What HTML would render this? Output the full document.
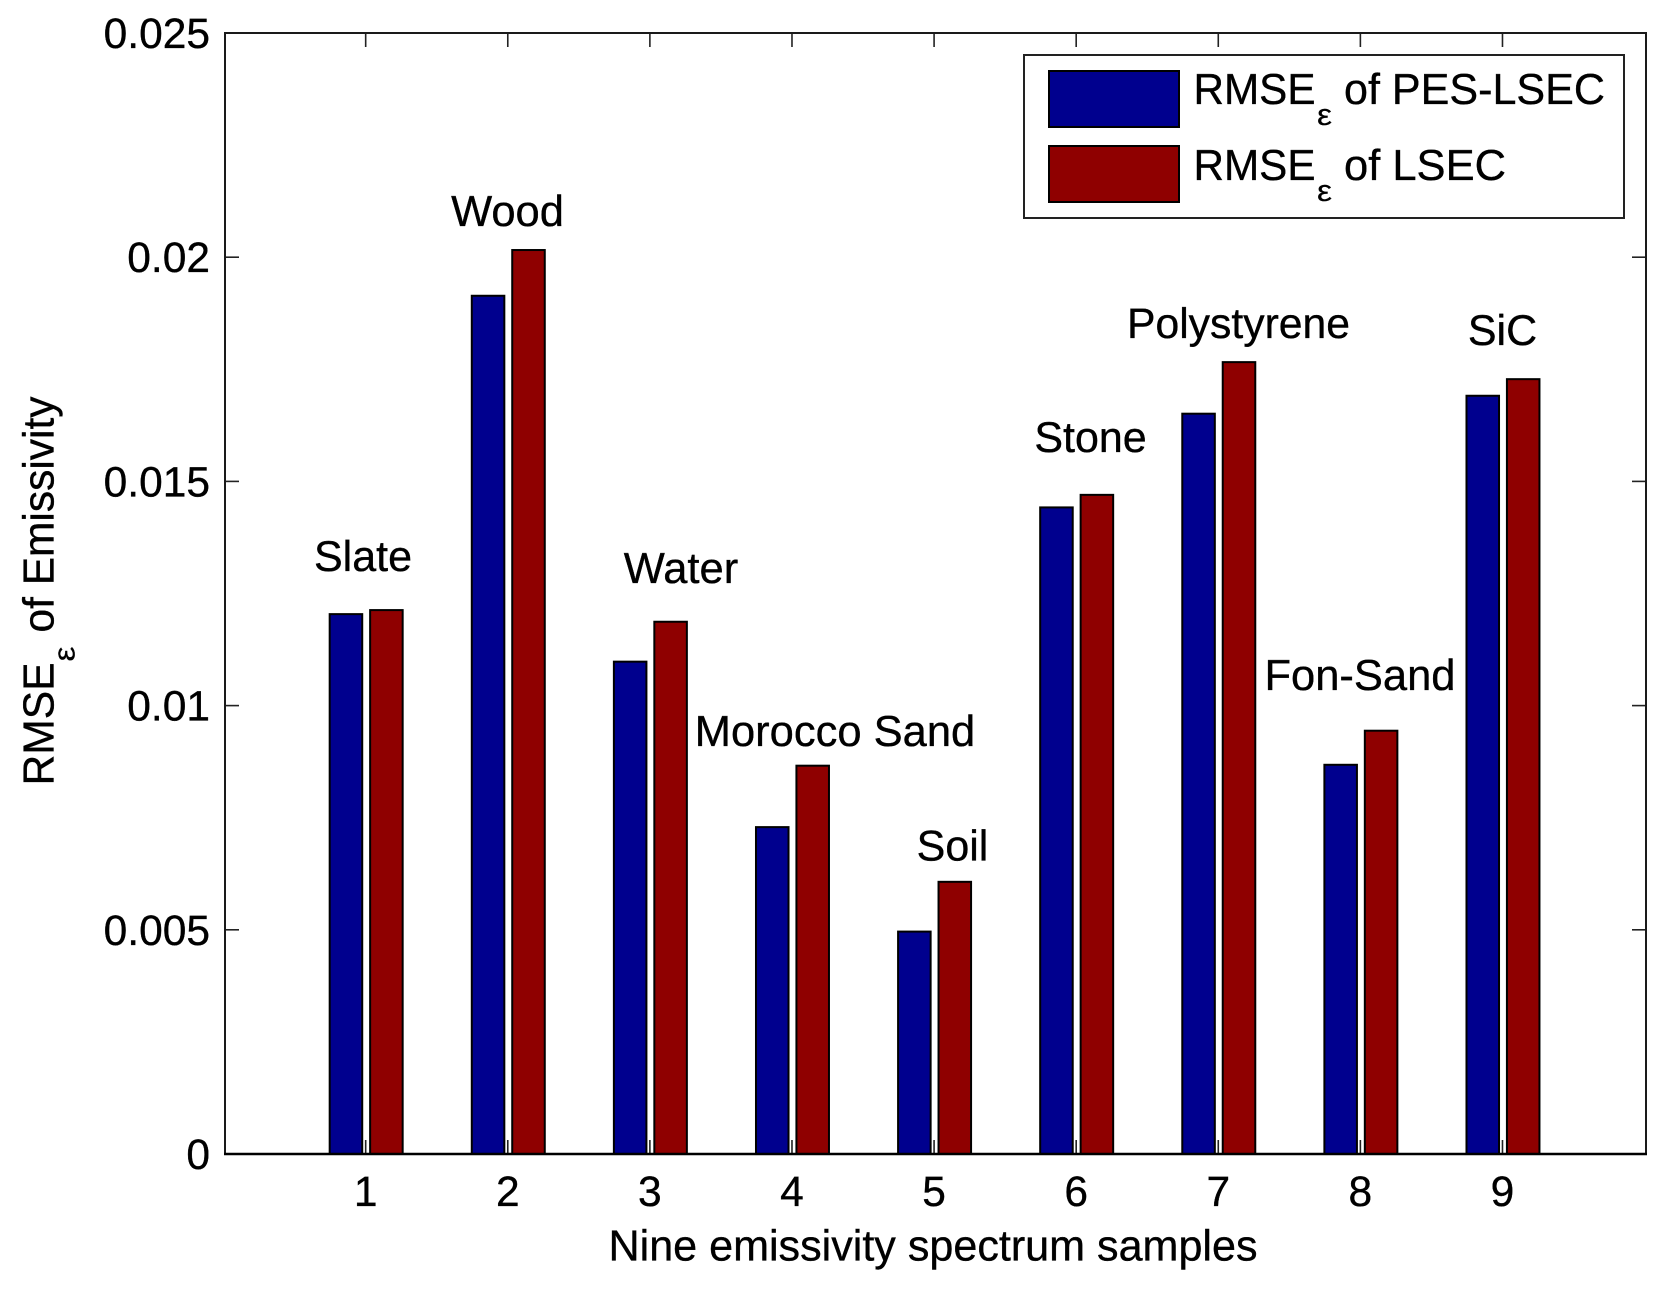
<!DOCTYPE html>
<html>
<head>
<meta charset="utf-8">
<title>RMSE of Emissivity bar chart</title>
<style>
html,body{margin:0;padding:0;background:#fff;}
svg{display:block;}
text{font-family:"Liberation Sans",Arial,sans-serif;fill:#000;font-size:43.5px;stroke:#000;stroke-width:0.35px;text-rendering:geometricPrecision;}
#tick-labels text{font-size:42.5px;}
</style>
</head>
<body>
<svg id="chart" xmlns="http://www.w3.org/2000/svg" width="1674" height="1291" viewBox="0 0 1674 1291">
  <rect x="0" y="0" width="1674" height="1291" fill="#ffffff"/>
  <g id="ticks"></g>
  <g id="bars"></g>
  <rect x="225" y="33" width="1421" height="1121" fill="none" stroke="#1a1a1a" stroke-width="2"/>
  <line x1="224" y1="1154" x2="1647" y2="1154" stroke="#000" stroke-width="2.5"/>
  <g id="tick-labels"></g>

  <text x="363" y="571" text-anchor="middle" style="font-size:43px">Slate</text>
  <text x="507.5" y="226" text-anchor="middle">Wood</text>
  <text x="681" y="583" text-anchor="middle">Water</text>
  <text x="835" y="746" text-anchor="middle">Morocco Sand</text>
  <text x="952.5" y="860.5" text-anchor="middle" style="font-size:43px">Soil</text>
  <text x="1090.5" y="452" text-anchor="middle" style="font-size:43px">Stone</text>
  <text x="1238.5" y="338" text-anchor="middle" style="font-size:42.7px">Polystyrene</text>
  <text x="1360" y="690" text-anchor="middle">Fon-Sand</text>
  <text x="1502.5" y="345" text-anchor="middle" style="font-size:43px">SiC</text>

  <text x="933" y="1260.5" text-anchor="middle" textLength="649" lengthAdjust="spacingAndGlyphs">Nine emissivity spectrum samples</text>

  <g transform="translate(53.5,785.5) rotate(-90)">
    <text x="0" y="0" textLength="123" lengthAdjust="spacingAndGlyphs">RMSE</text>
    <text x="124" y="21" style="font-size:30px;stroke-width:0.2px" textLength="15" lengthAdjust="spacingAndGlyphs">ε</text>
    <text x="153" y="0" textLength="236" lengthAdjust="spacingAndGlyphs">of Emissivity</text>
  </g>

  <g>
    <rect x="1024" y="55" width="600" height="163" fill="#fff" stroke="#222" stroke-width="2"/>
    <rect x="1049" y="71" width="130" height="56" fill="#00008e" stroke="#000" stroke-width="2"/>
    <rect x="1049" y="146" width="130" height="56" fill="#8f0000" stroke="#000" stroke-width="2"/>
    <g>
      <text x="1193.5" y="104" textLength="122" lengthAdjust="spacingAndGlyphs">RMSE</text>
      <text x="1317" y="125" style="font-size:30px;stroke-width:0.2px" textLength="15" lengthAdjust="spacingAndGlyphs">ε</text>
      <text x="1344" y="104" textLength="261" lengthAdjust="spacingAndGlyphs">of PES-LSEC</text>
    </g>
    <g>
      <text x="1193.5" y="180" textLength="122" lengthAdjust="spacingAndGlyphs">RMSE</text>
      <text x="1317" y="201" style="font-size:30px;stroke-width:0.2px" textLength="15" lengthAdjust="spacingAndGlyphs">ε</text>
      <text x="1344" y="180">of LSEC</text>
    </g>
  </g>
</svg>
<script>
const categories = [1, 2, 3, 4, 5, 6, 7, 8, 9];
const pesLsecValues = [0.01204, 0.01914, 0.01098, 0.00729, 0.00496, 0.01442, 0.01651, 0.00868, 0.01691];
const lsecValues = [0.01213, 0.02016, 0.01187, 0.00866, 0.00607, 0.0147, 0.01766, 0.00944, 0.01728];
const yTickValues = [0, 0.005, 0.01, 0.015, 0.02, 0.025];
const yTickLabels = ['0', '0.005', '0.01', '0.015', '0.02', '0.025'];

const NS = 'http://www.w3.org/2000/svg';
const plot = { left: 225, right: 1646, top: 33, bottom: 1154 };
const xDomain = [0.01, 10.01];
const yDomain = [0, 0.025];
function xScale(v) { return plot.left + (v - xDomain[0]) / (xDomain[1] - xDomain[0]) * (plot.right - plot.left); }
function yScale(v) { return plot.bottom - (v - yDomain[0]) / (yDomain[1] - yDomain[0]) * (plot.bottom - plot.top); }
function make(parent, tag, attrs) {
  const el = document.createElementNS(NS, tag);
  Object.keys(attrs).forEach(function (k) { el.setAttribute(k, attrs[k]); });
  parent.appendChild(el);
  return el;
}

const ticksG = document.getElementById('ticks');
const barsG = document.getElementById('bars');
const labelsG = document.getElementById('tick-labels');
const blueOffset = -0.2533;
const redOffset = 0.0313;
const barWidth = 0.229;
const tickLen = 14;

categories.forEach(function (c, i) {
  const x = xScale(c);
  const tickBottom = make(ticksG, 'line', { x1: x, x2: x, y1: plot.bottom, y2: plot.bottom - tickLen, stroke: '#222', 'stroke-width': 1.6 });
  
  
  const tickTop = make(ticksG, 'line', { x1: x, x2: x, y1: plot.top, y2: plot.top + tickLen, stroke: '#222', 'stroke-width': 1.6 });
  
  

  const label = make(labelsG, 'text', { x: x, y: 1206, 'text-anchor': 'middle' });
  label.textContent = String(c);
  
  

  const blueX = xScale(c + blueOffset);
  const redX = xScale(c + redOffset);
  const w = xScale(barWidth) - xScale(0);
  const blue = make(barsG, 'rect', { x: blueX, y: yScale(pesLsecValues[i]), width: w, height: yScale(0) - yScale(pesLsecValues[i]), fill: '#00008e', stroke: '#000', 'stroke-width': 2 });
  
  
  const red = make(barsG, 'rect', { x: redX, y: yScale(lsecValues[i]), width: w, height: yScale(0) - yScale(lsecValues[i]), fill: '#8f0000', stroke: '#000', 'stroke-width': 2 });
  
  
});

yTickValues.forEach(function (v, i) {
  const y = yScale(v);
  const tickLeft = make(ticksG, 'line', { x1: plot.left, x2: plot.left + tickLen, y1: y, y2: y, stroke: '#222', 'stroke-width': 1.6 });
  
  
  const tickRight = make(ticksG, 'line', { x1: plot.right, x2: plot.right - tickLen, y1: y, y2: y, stroke: '#222', 'stroke-width': 1.6 });
  
  
  const label = make(labelsG, 'text', { x: 210, y: y + 15, 'text-anchor': 'end' });
  label.textContent = yTickLabels[i];
  
  
});
</script>
</body>
</html>
